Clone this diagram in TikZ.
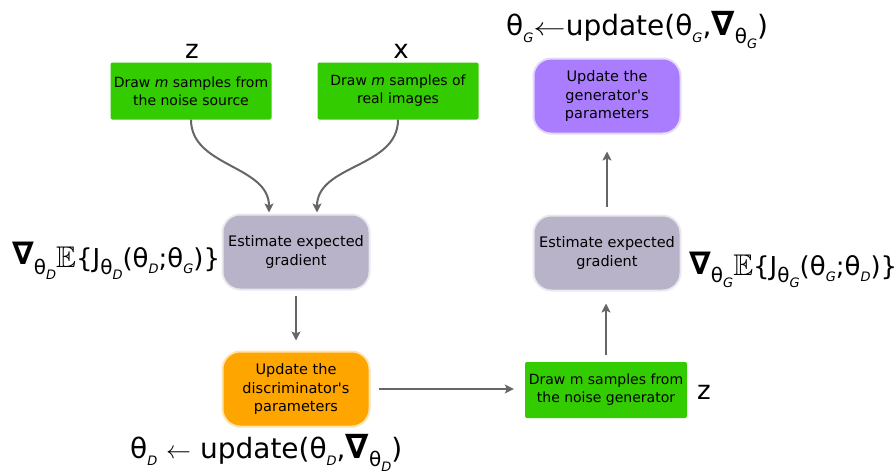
\documentclass[tikz,border=0pt]{standalone}
\usepackage{fontspec}
\setmainfont{DejaVu Sans}
\usepackage{amssymb}
\usetikzlibrary{calc,arrows.meta}
\tikzset {>={Stealth[length=9pt,width=9pt,inset=2pt]}}

\definecolor{drawgreen}{RGB}{51,204,0}
\definecolor{estgray}{RGB}{184,179,200}
\definecolor{updorange}{RGB}{255,165,0}
\definecolor{updpurple}{RGB}{170,125,255}
\definecolor{flowgray}{RGB}{102,102,102}

\newcommand\bigtxt{\fontsize{26}{30}\selectfont}
\newcommand\hugetxt{\fontsize{28}{32}\selectfont}
\newcommand\subA[1]{\raisebox{-0.3em}{\fontsize{20}{20}\selectfont #1}}
\newcommand\subB[1]{\raisebox{-0.25em}{\fontsize{13}{13}\selectfont\itshape #1}}
\newcommand\nablab{\scalebox{1.2}{\textbf{∇}}}
\newcommand\expE{\scalebox{1.15}{$\mathbb{E}$}}
\newcommand\getsarrow{\scalebox{1.3}[1]{$\leftarrow$}}

\begin{document}
\begin{tikzpicture}[x=1pt,y=-1pt,
  drawbox/.style={fill=drawgreen,rounded corners=2pt,minimum width=161pt,
    minimum height=57pt,align=center,font=\fontsize{14}{18}\selectfont},
  blurbox/.style={fill=#1,draw=#1,draw opacity=0.3,line width=4pt,
    rounded corners=17pt,minimum width=145pt,minimum height=73pt,
    align=center,font=\fontsize{14.5}{18.5}\selectfont},
  flow/.style={->,draw=flowgray,line width=2pt},
  bigmath/.style={font=\bigtxt,inner sep=0pt},
  updmath/.style={font=\hugetxt,inner sep=0pt}]
\useasboundingbox (0,0) rectangle (896,472);

% Discriminator side
\node[drawbox] (drawz) at (191,91) {Draw \textit{m} samples from\\the noise source};
\node[drawbox] (drawx) at (398,91) {Draw \textit{m} samples of\\real images};
\node[bigmath,anchor=base] (zlab) at (192,58) {z};
\node[bigmath,anchor=base] (xlab) at (401,58) {x};
\node[blurbox=estgray] (estD) at (296,252) {Estimate expected\\gradient};
\node[blurbox=updorange] (updD) at (296,389) {Update the\\discriminator\textquotesingle s\\parameters};
\node[bigmath,anchor=base west] (gradD) at (12,267)
  {\raisebox{3pt}{\nablab}\subA{θ\subB{D}}\expE\{J\subA{θ\subB{D}}(θ\subB{D};θ\subB{G})\}};
\node[updmath,anchor=base west] (stepD) at (130,458)
  {θ\subB{D} $\leftarrow$ update(θ\subB{D},\nablab\subA{θ\subB{D}})};

% Generator side
\node[drawbox,minimum width=162pt,minimum height=56pt] (drawg) at (606,390)
  {Draw m samples from\\the noise generator};
\node[bigmath,anchor=base] (zgen) at (704,399) {z};
\node[blurbox=estgray] (estG) at (607,253) {Estimate expected\\gradient};
\node[blurbox=updpurple] (updG) at (607,96) {Update the\\generator\textquotesingle s\\parameters};
\node[bigmath,anchor=base west] (gradG) at (689,275)
  {\raisebox{1pt}{\nablab}\subA{θ\subB{G}}\expE\{J\subA{θ\subB{G}}(θ\subB{G};θ\subB{D})\}};
\node[updmath,anchor=base west] (stepG) at (506,35)
  {θ\subB{G}\getsarrow update(θ\subB{G},\nablab\subA{θ\subB{G}})};

% Connectors
\coordinate (inz) at ($(estD.north)+(-27,-1)$);
\coordinate (inx) at ($(estD.north)+(21,-1)$);
\draw[flow] (drawz.south) to[out=-90,in=90] (inz);
\draw[flow] (drawx.south) to[out=-90,in=90] (inx);
\draw[flow,shorten <=5pt,shorten >=10pt] (estD.south) -- (updD.north);
\draw[flow,shorten <=8pt,shorten >=11pt] (updD.east) -- (updD.east -| drawg.west);
\draw[flow,shorten <=7pt,shorten >=12pt] (drawg.north) -- (drawg.north |- estG.south);
\draw[flow,shorten <=8pt,shorten >=17pt] (estG.north) -- (updG.south);

\end{tikzpicture}
\end{document}
